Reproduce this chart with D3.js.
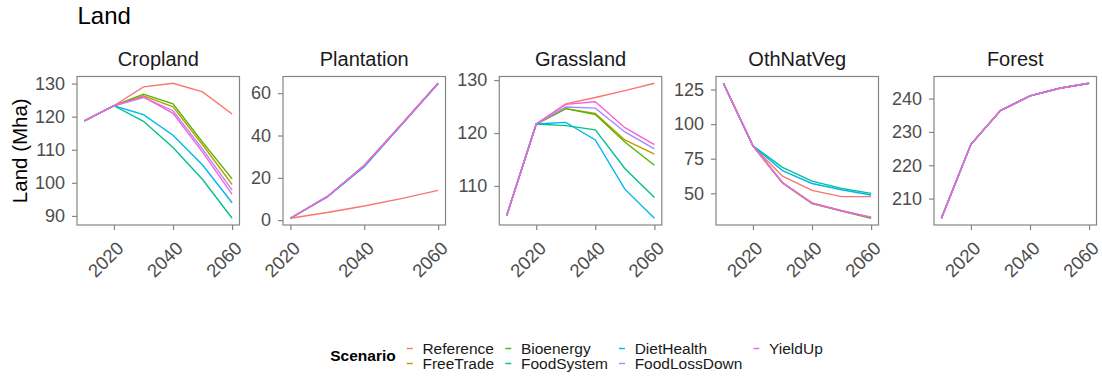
<!DOCTYPE html>
<html>
<head>
<meta charset="utf-8">
<script src="https://cdn.jsdelivr.net/npm/d3@7"></script>
<style>
  body { margin: 0; background: #fff; }
  svg { display: block; font-family: "Liberation Sans", Arial, sans-serif; }
</style>
</head>
<body>
<div id="chart"></div>
<script>
// ---- data ----
const years = [2010, 2020, 2030, 2040, 2050, 2060];
const scenarios = ["Reference", "FreeTrade", "Bioenergy", "FoodSystem", "DietHealth", "FoodLossDown", "YieldUp"];
const scenarioColors = ["#F8766D", "#C49A00", "#53B400", "#00C094", "#00B6EB", "#A58AFF", "#FB61D7"];
const panelNames = ["Cropland", "Plantation", "Grassland", "OthNatVeg", "Forest"];
const xTickValues = [2020, 2040, 2060];

// one row per scenario, same order as `scenarios`
const cropland = [
  [118.7, 123.3, 129.0, 130.1, 127.5, 120.8],
  [118.7, 123.3, 126.3, 123.0, 111.5, 99.5],
  [118.7, 123.3, 126.8, 123.9, 112.3, 101.2],
  [118.7, 123.3, 118.6, 110.7, 101.0, 89.3],
  [118.7, 123.3, 120.6, 114.4, 105.4, 94.0],
  [118.7, 123.3, 125.8, 121.8, 110.2, 97.8],
  [118.7, 123.3, 126.0, 121.0, 109.3, 96.5]
];
const plantation = [
  [null, 0.9, 3.6, 6.7, 10.2, 14.1],
  [null, 0.9, 11.1, 25.8, 45.1, 64.7],
  [null, 0.9, 11.1, 25.8, 45.1, 64.7],
  [null, 0.9, 11.1, 25.6, 45.0, 64.6],
  [null, 0.9, 11.0, 25.2, 44.8, 64.6],
  [null, 0.9, 11.1, 25.8, 45.1, 64.7],
  [null, 0.9, 11.1, 25.8, 45.1, 64.7]
];
const grassland = [
  [104.4, 121.7, 125.5, 126.7, 128.0, 129.4],
  [104.4, 121.7, 124.6, 123.7, 118.7, 116.0],
  [104.4, 121.7, 124.6, 123.5, 118.3, 113.9],
  [104.4, 121.7, 121.4, 120.6, 113.3, 107.8],
  [104.4, 121.7, 122.0, 118.7, 109.4, 103.9],
  [104.4, 121.7, 124.9, 124.7, 120.2, 117.0],
  [104.4, 121.7, 125.4, 125.9, 121.0, 117.8]
];
const othNatVeg = [
  [129.5, 84.3, 62.4, 52.1, 47.6, 47.6],
  [129.5, 84.3, 57.6, 42.9, 37.4, 32.5],
  [129.5, 84.3, 57.4, 42.6, 37.1, 32.0],
  [129.5, 84.3, 68.8, 58.8, 53.6, 50.0],
  [129.5, 84.3, 66.4, 57.1, 52.6, 48.8],
  [129.5, 84.3, 57.8, 43.1, 37.5, 32.8],
  [129.5, 84.3, 57.6, 42.9, 37.4, 32.6]
];
const forest = scenarios.map(() => [204.1, 226.3, 236.4, 240.8, 243.1, 244.6]);

const yTickValues = [
  [90, 100, 110, 120, 130],
  [0, 20, 40, 60],
  [110, 120, 130],
  [50, 75, 100, 125],
  [210, 220, 230, 240]
];
const panelValues = [cropland, plantation, grassland, othNatVeg, forest];

// ---- layout ----
const width = 1102, height = 376;
const panelLefts = [77, 283, 499.3, 716, 934];
const panelW = 162.5, panelTop = 76.5, panelH = 148.5;
const axisGrey = "#4D4D4D", borderGrey = "#858585";

const svg = d3.select("#chart").append("svg")
  .attr("width", width)
  .attr("height", height);

svg.append("rect").attr("width", width).attr("height", height).attr("fill", "#fff");

svg.append("text")
  .attr("x", 77.5).attr("y", 24)
  .attr("font-size", 24).attr("fill", "#000")
  .text("Land");

svg.append("text")
  .attr("transform", `translate(26.5,${panelTop + panelH / 2}) rotate(-90)`)
  .attr("text-anchor", "middle")
  .attr("font-size", 20.5).attr("fill", "#000")
  .text("Land (Mha)");

// pad a domain by 5% on both sides, like ggplot
function padded(ext) {
  const d = (ext[1] - ext[0]) * 0.05;
  return [ext[0] - d, ext[1] + d];
}

panelNames.forEach((name, i) => {
  const values = panelValues[i];
  const series = scenarios.map((s, k) => ({
    name: s,
    color: scenarioColors[k],
    points: years.map((yr, j) => ({ year: yr, value: values[k][j] }))
      .filter(p => p.value != null)
  }));
  const allPts = series.flatMap(s => s.points);

  const x = d3.scaleLinear()
    .domain(padded(d3.extent(allPts, p => p.year)))
    .range([0, panelW]);
  const y = d3.scaleLinear()
    .domain(padded(d3.extent(allPts, p => p.value)))
    .range([panelH, 0]);

  const g = svg.append("g")
    .attr("transform", `translate(${panelLefts[i]},${panelTop})`);

  // strip title
  g.append("text")
    .attr("x", panelW / 2).attr("y", -10.5)
    .attr("text-anchor", "middle")
    .attr("font-size", 20).attr("fill", "#1a1a1a")
    .text(name);

  // x axis
  const xAxis = g.append("g")
    .attr("transform", `translate(0,${panelH})`)
    .call(d3.axisBottom(x).tickValues(xTickValues).tickSize(5).tickFormat(d3.format("d")));
  xAxis.select(".domain").remove();
  xAxis.selectAll(".tick line").attr("stroke", borderGrey).attr("stroke-width", 1.2);
  xAxis.selectAll(".tick text")
    .attr("font-size", 18.5).attr("fill", axisGrey)
    .attr("text-anchor", "end")
    .attr("x", 0).attr("y", 0).attr("dy", "0.72em")
    .attr("transform", "translate(1,15) rotate(-45)");

  // y axis
  const yAxis = g.append("g")
    .call(d3.axisLeft(y).tickValues(yTickValues[i]).tickSize(5).tickPadding(7));
  yAxis.select(".domain").remove();
  yAxis.selectAll(".tick line").attr("stroke", borderGrey).attr("stroke-width", 1.2);
  yAxis.selectAll(".tick text").attr("font-size", 18).attr("fill", axisGrey);

  // lines
  const line = d3.line().x(p => x(p.year)).y(p => y(p.value));
  g.selectAll(".series")
    .data(series)
    .enter()
    .append("path")
    .attr("class", "series")
    .attr("d", d => line(d.points))
    .attr("fill", "none")
    .attr("stroke", d => d.color)
    .attr("stroke-width", 1.4);

  // panel border on top
  g.append("rect")
    .attr("width", panelW).attr("height", panelH)
    .attr("fill", "none")
    .attr("stroke", borderGrey).attr("stroke-width", 1.2);
});

// ---- legend: 2 rows, filled by column ----
const legend = svg.append("g");
const rowY = [348.5, 363.5];
legend.append("text")
  .attr("x", 0).attr("y", (rowY[0] + rowY[1]) / 2).attr("dy", "0.35em")
  .attr("font-size", 15.5).attr("font-weight", "bold").attr("fill", "#000")
  .text("Scenario");

let colX = 76.5;
for (let c = 0; c * 2 < scenarios.length; c++) {
  let maxW = 0;
  [0, 1].forEach(r => {
    const k = c * 2 + r;
    if (k >= scenarios.length) return;
    legend.append("line")
      .attr("x1", colX).attr("x2", colX + 6)
      .attr("y1", rowY[r]).attr("y2", rowY[r])
      .attr("stroke", scenarioColors[k]).attr("stroke-width", 1.4);
    const t = legend.append("text")
      .attr("x", colX + 15.7).attr("y", rowY[r]).attr("dy", "0.35em")
      .attr("font-size", 15.5).attr("fill", "#1a1a1a")
      .text(scenarios[k]);
    maxW = Math.max(maxW, t.node().getComputedTextLength());
  });
  colX += 15.7 + maxW + 11;
}
const lw = legend.node().getBBox().width;
legend.attr("transform", `translate(${576.5 - lw / 2},0)`);
</script>
</body>
</html>
